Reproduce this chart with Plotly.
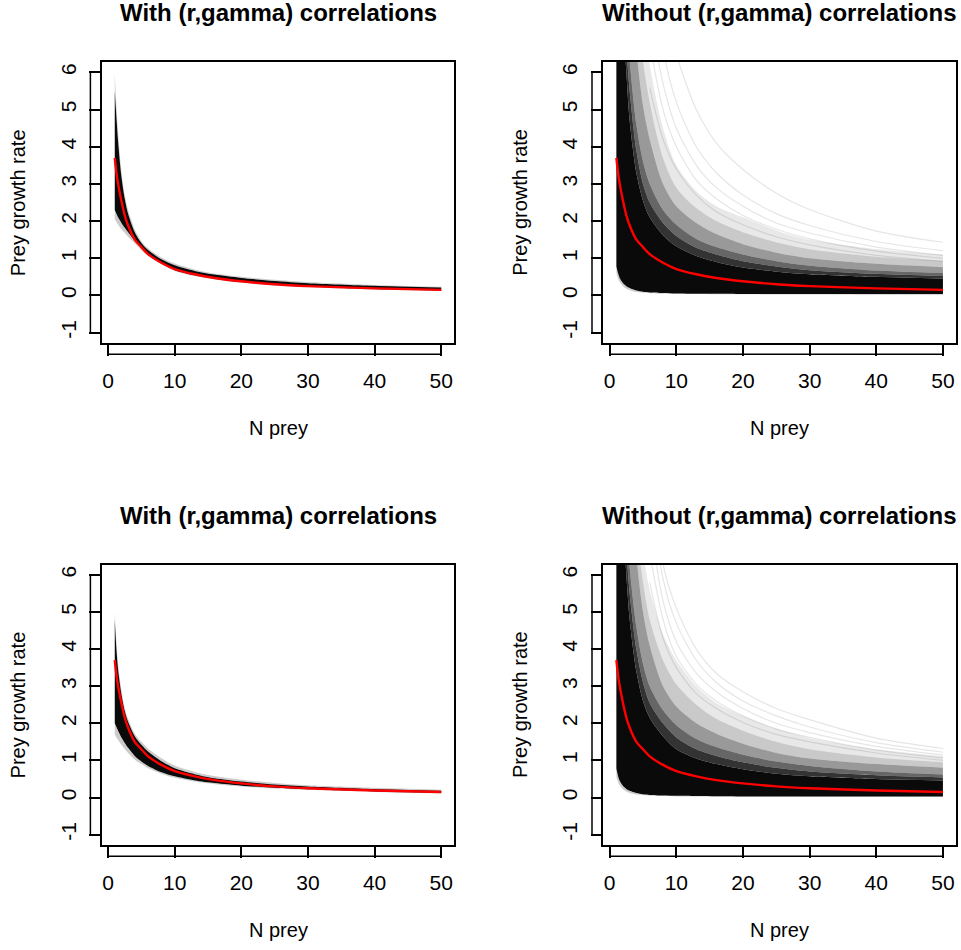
import plotly.graph_objects as go

# ---------------- data ----------------
N_NODES = [1, 1.25, 1.5, 2, 2.5, 3, 4, 5, 6, 8, 10, 13, 16, 20, 25, 30, 40, 50]
STREAK_N = [6, 8, 10, 13, 16, 20, 25, 30, 40, 50]

X_TICKS = [0, 10, 20, 30, 40, 50]
X_TICK_TEXT = ["0", "10", "20", "30", "40", "50"]
Y_TICKS = [-1, 0, 1, 2, 3, 4, 5, 6]
Y_TICK_TEXT = ["-1", "0", "1", "2", "3", "4", "5", "6"]

TITLE_WITH = "With (r,gamma) correlations"
TITLE_WITHOUT = "Without (r,gamma) correlations"
X_LABEL = "N prey"
Y_LABEL = "Prey growth rate"

# mean growth-rate curve (red) – same in every panel
mean_rate = [3.70, 3.30, 3.00, 2.54, 2.15, 1.88, 1.50, 1.30, 1.11, 0.88, 0.71,
             0.57, 0.47, 0.38, 0.30, 0.25, 0.19, 0.15]

# top-left: with correlations
tl_fuzz_low = [2.05, 1.98, 1.90, 1.78, 1.68, 1.58, 1.40, 1.22, 1.06, 0.84, 0.66, 0.52, 0.43, 0.34, 0.27, 0.22, 0.16, 0.12]
tl_core_low = [2.30, 2.20, 2.10, 1.95, 1.82, 1.70, 1.47, 1.27, 1.09, 0.86, 0.68, 0.54, 0.45, 0.36, 0.29, 0.24, 0.17, 0.13]
tl_core_high = [5.50, 4.80, 4.15, 3.20, 2.60, 2.20, 1.70, 1.41, 1.22, 0.97, 0.81, 0.66, 0.56, 0.47, 0.39, 0.33, 0.26, 0.21]
tl_fuzz_high = [6.00, 5.10, 4.40, 3.35, 2.70, 2.30, 1.78, 1.46, 1.27, 1.02, 0.86, 0.70, 0.59, 0.50, 0.42, 0.36, 0.28, 0.23]

# bottom-left: with correlations
bl_fuzz_low = [1.70, 1.62, 1.55, 1.42, 1.30, 1.20, 1.02, 0.90, 0.79, 0.64, 0.53, 0.43, 0.36, 0.30, 0.24, 0.20, 0.15, 0.11]
bl_core_low = [2.00, 1.90, 1.80, 1.62, 1.47, 1.34, 1.12, 0.97, 0.85, 0.68, 0.57, 0.46, 0.39, 0.32, 0.26, 0.22, 0.16, 0.12]
bl_core_high = [4.80, 4.00, 3.45, 2.78, 2.33, 2.04, 1.65, 1.42, 1.24, 0.98, 0.79, 0.63, 0.52, 0.43, 0.35, 0.30, 0.23, 0.18]
bl_fuzz_high = [5.00, 4.20, 3.60, 2.90, 2.42, 2.12, 1.72, 1.50, 1.32, 1.06, 0.86, 0.69, 0.58, 0.48, 0.39, 0.33, 0.26, 0.21]

# top-right: without correlations (envelopes of the fan of curves)
tr_fuzz_low = [0.60, 0.45, 0.36, 0.25, 0.18, 0.14, 0.09, 0.07, 0.06, 0.045, 0.04, 0.035, 0.03, 0.03, 0.025, 0.025, 0.02, 0.02]
tr_low = [0.78, 0.60, 0.47, 0.33, 0.25, 0.20, 0.13, 0.10, 0.08, 0.065, 0.05, 0.045, 0.045, 0.04, 0.04, 0.04, 0.04, 0.04]
tr_black = [14, 11, 9.5, 7.5, 6.0, 4.7, 3.3, 2.55, 2.1, 1.62, 1.32, 1.06, 0.90, 0.75, 0.64, 0.57, 0.50, 0.45]
tr_dark2 = [17, 13.5, 11, 8.5, 6.7, 5.5, 3.9, 3.0, 2.5, 1.95, 1.60, 1.28, 1.10, 0.92, 0.78, 0.68, 0.58, 0.52]
tr_dark = [20, 16, 13, 9.5, 7.5, 6.3, 4.6, 3.6, 3.0, 2.3, 1.9, 1.52, 1.30, 1.10, 0.92, 0.80, 0.67, 0.60]
tr_mid = [26, 20, 17, 13, 10.5, 8.8, 6.6, 5.1, 4.2, 3.0, 2.4, 1.95, 1.65, 1.38, 1.15, 1.00, 0.85, 0.76]
tr_pale = [29, 23, 19.5, 15, 12, 10.2, 8.0, 6.3, 5.2, 3.7, 2.9, 2.35, 2.0, 1.70, 1.43, 1.24, 1.04, 0.93]
tr_light = [32, 26, 22, 17, 14, 12, 9.5, 7.6, 6.2, 4.5, 3.5, 2.8, 2.4, 2.1, 1.75, 1.50, 1.25, 1.10]
tr_streaks = [
    [12, 8.2, 6.5, 5.0, 4.1, 3.39, 2.75, 2.31, 1.73, 1.43],
    [9.0, 6.6, 5.2, 4.0, 3.3, 2.7, 2.2, 1.88, 1.45, 1.20],
    [7.6, 5.7, 4.5, 3.5, 2.9, 2.4, 1.95, 1.68, 1.30, 1.08],
    [6.8, 5.0, 4.0, 3.1, 2.6, 2.15, 1.78, 1.52, 1.19, 1.00],
    [5.6, 4.2, 3.4, 2.7, 2.25, 1.9, 1.58, 1.36, 1.08, 0.92],
]

# bottom-right: without correlations
br_fuzz_low = [0.55, 0.42, 0.33, 0.22, 0.16, 0.12, 0.08, 0.06, 0.05, 0.04, 0.03, 0.025, 0.02, 0.02, 0.02, 0.015, 0.015, 0.015]
br_low = [0.78, 0.58, 0.45, 0.31, 0.23, 0.18, 0.12, 0.09, 0.07, 0.055, 0.045, 0.04, 0.035, 0.03, 0.03, 0.03, 0.03, 0.03]
br_black = [14, 11, 9.5, 7.5, 6.0, 4.8, 3.4, 2.6, 2.15, 1.65, 1.30, 1.05, 0.90, 0.76, 0.64, 0.57, 0.50, 0.46]
br_dark2 = [17, 13.5, 11, 8.5, 6.7, 5.5, 4.0, 3.1, 2.55, 2.0, 1.62, 1.30, 1.12, 0.95, 0.80, 0.70, 0.60, 0.54]
br_dark = [20, 16, 13, 9.5, 7.5, 6.2, 4.6, 3.6, 3.0, 2.35, 1.95, 1.58, 1.36, 1.15, 0.97, 0.85, 0.70, 0.62]
br_mid = [26, 20, 17, 13, 10.5, 8.8, 6.5, 5.0, 4.1, 3.0, 2.45, 2.0, 1.72, 1.45, 1.20, 1.05, 0.90, 0.80]
br_pale = [28, 22, 18.5, 14, 11.2, 9.4, 7.2, 5.8, 4.8, 3.7, 3.05, 2.5, 2.12, 1.80, 1.50, 1.30, 1.08, 0.95]
br_light = [30, 24, 20, 15, 12, 10, 8.0, 6.6, 5.6, 4.4, 3.7, 3.0, 2.55, 2.2, 1.85, 1.60, 1.30, 1.12]
br_streaks = [
    [9.5, 6.3, 5.1, 4.0, 3.35, 2.85, 2.4, 2.1, 1.60, 1.32],
    [8.6, 5.9, 4.7, 3.7, 3.1, 2.6, 2.2, 1.9, 1.48, 1.22],
    [7.5, 5.3, 4.2, 3.35, 2.85, 2.4, 2.0, 1.75, 1.38, 1.15],
    [6.6, 4.8, 3.8, 3.05, 2.6, 2.2, 1.85, 1.62, 1.28, 1.06],
    [5.8, 4.3, 3.5, 2.8, 2.4, 2.02, 1.7, 1.5, 1.2, 1.00],
]

# ---------------- styling ----------------
W, H = 961, 950
FONT = "Liberation Sans, Arial, Helvetica, sans-serif"
BLACK = "#0a0a0a"
FUZZ = "rgba(0,0,0,0.2)"
DARK2 = "rgba(0,0,0,0.80)"
DARK = "rgba(0,0,0,0.60)"
MID = "rgba(0,0,0,0.40)"
PALE = "rgba(0,0,0,0.21)"
LIGHT = "rgba(0,0,0,0.09)"
STREAK = "rgba(0,0,0,0.10)"
RED = "#ff0000"

# panel boxes in pixels: (left, right, top, bottom)
panels = {
    1: (101.7, 454.3, 62.0, 343.0),
    2: (603.3, 956.0, 62.0, 343.0),
    3: (101.7, 454.3, 564.5, 845.0),
    4: (603.3, 956.0, 564.5, 845.0),
}

fig = go.Figure()


def ax_names(i):
    s = "" if i == 1 else str(i)
    return "x" + s, "y" + s


def band_traces(i, boundaries, fills, xs):
    xa, ya = ax_names(i)
    for k, ys in enumerate(boundaries):
        fig.add_trace(go.Scatter(
            x=xs, y=ys, mode="lines", xaxis=xa, yaxis=ya,
            line=dict(width=0, shape="spline", smoothing=0.8),
            fill=None if k == 0 else "tonexty",
            fillcolor=None if k == 0 else fills[k - 1],
            hoverinfo="skip", showlegend=False))


def line_trace(i, xs, ys, color, width):
    xa, ya = ax_names(i)
    fig.add_trace(go.Scatter(
        x=xs, y=ys, mode="lines", xaxis=xa, yaxis=ya,
        line=dict(color=color, width=width, shape="spline", smoothing=0.8),
        hoverinfo="skip", showlegend=False))


# with-correlation panels
band_traces(1, [tl_fuzz_low, tl_core_low, tl_core_high, tl_fuzz_high],
            [FUZZ, BLACK, FUZZ], N_NODES)
band_traces(3, [bl_fuzz_low, bl_core_low, bl_core_high, bl_fuzz_high],
            [FUZZ, BLACK, FUZZ], N_NODES)

# without-correlation panels
band_traces(2, [tr_fuzz_low, tr_low, tr_black, tr_dark2, tr_dark, tr_mid, tr_pale, tr_light],
            [FUZZ, BLACK, DARK2, DARK, MID, PALE, LIGHT], N_NODES)
for s in tr_streaks:
    line_trace(2, STREAK_N, s, STREAK, 1.2)
band_traces(4, [br_fuzz_low, br_low, br_black, br_dark2, br_dark, br_mid, br_pale, br_light],
            [FUZZ, BLACK, DARK2, DARK, MID, PALE, LIGHT], N_NODES)
for s in br_streaks:
    line_trace(4, STREAK_N, s, STREAK, 1.2)

for i in (1, 2, 3, 4):
    line_trace(i, N_NODES, mean_rate, RED, 2.4)

layout = dict(
    width=W, height=H, margin=dict(l=0, r=0, t=0, b=0),
    paper_bgcolor="white", plot_bgcolor="white", showlegend=False,
    font=dict(family=FONT, size=20, color="black"),
)

shapes = []
annotations = []
for i, (l, r, t, b) in panels.items():
    s = "" if i == 1 else str(i)
    xdom = [l / W, r / W]
    ydom = [1 - b / H, 1 - t / H]
    common = dict(showgrid=False, zeroline=False, showline=True, mirror=True,
                  linecolor="black", linewidth=1.5, ticks="outside", ticklen=11,
                  tickwidth=1.5, tickcolor="black",
                  tickfont=dict(family=FONT, size=21, color="black"))
    layout["xaxis" + s] = dict(common, domain=xdom, anchor="y" + s,
                               range=[-0.96, 51.96], tickmode="array",
                               tickvals=X_TICKS, ticktext=X_TICK_TEXT,
                               ticklabelstandoff=7)
    layout["yaxis" + s] = dict(common, domain=ydom, anchor="x" + s,
                               range=[-1.28, 6.28], tickmode="array",
                               tickvals=Y_TICKS, ticktext=Y_TICK_TEXT,
                               tickangle=-90, ticklabelstandoff=5)
    # R-style offset axis lines spanning first to last tick
    xa, ya = "x" + s, "y" + s
    shapes.append(dict(type="line", xref=xa, yref="paper",
                       x0=X_TICKS[0], x1=X_TICKS[-1],
                       y0=1 - (b + 11.3) / H, y1=1 - (b + 11.3) / H,
                       line=dict(color="black", width=1.5)))
    shapes.append(dict(type="line", xref="paper", yref=ya,
                       x0=(l - 11.3) / W, x1=(l - 11.3) / W,
                       y0=Y_TICKS[0], y1=Y_TICKS[-1],
                       line=dict(color="black", width=1.5)))
    cx = (l + r) / 2
    cy = (t + b) / 2
    title = TITLE_WITH if i in (1, 3) else TITLE_WITHOUT
    annotations.append(dict(text="<b>%s</b>" % title, x=cx / W, y=1 - (t - 49.5) / H,
                            xref="paper", yref="paper", showarrow=False,
                            xanchor="center", yanchor="middle",
                            font=dict(family=FONT, size=24, color="black")))
    annotations.append(dict(text=X_LABEL, x=cx / W, y=1 - (b + 85.3) / H,
                            xref="paper", yref="paper", showarrow=False,
                            xanchor="center", yanchor="middle",
                            font=dict(family=FONT, size=20, color="black")))
    annotations.append(dict(text=Y_LABEL, x=(l - 84) / W, y=1 - cy / H,
                            xref="paper", yref="paper", showarrow=False,
                            textangle=-90, xanchor="center", yanchor="middle",
                            font=dict(family=FONT, size=20, color="black")))

layout["shapes"] = shapes
layout["annotations"] = annotations
fig.update_layout(**layout)
fig.write_html("out.html")
